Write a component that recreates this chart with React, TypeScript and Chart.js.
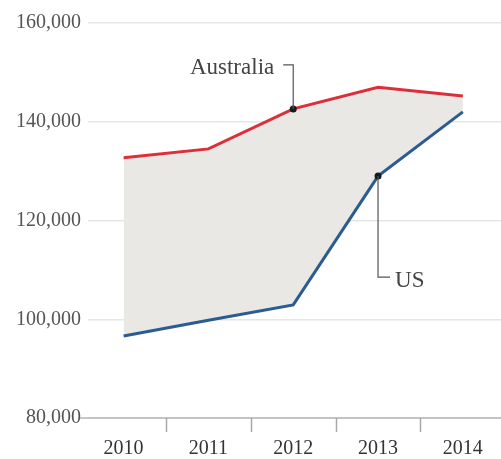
import React, { useEffect, useRef } from "react";
import { Chart, registerables } from "chart.js";

Chart.register(...registerables);

const categories = ["2010", "2011", "2012", "2013", "2014"];
const australia = [132700, 134500, 142600, 147000, 145200];
const us = [96600, 99800, 102900, 129000, 142000];
const yTicks = [80000, 100000, 120000, 140000, 160000];
const labelAustralia = "Australia";
const labelUS = "US";

const FONT = "'Liberation Serif', 'Times New Roman', serif";

const overlayPlugin = {
  id: "overlay",
  afterDatasetsDraw(chart: any) {
    const ctx = chart.ctx;
    const xs = chart.scales.x;
    const ys = chart.scales.y;
    const area = chart.chartArea;
    ctx.save();
    // bottom axis line
    const yb = ys.getPixelForValue(yTicks[0]);
    ctx.strokeStyle = "#b4b4b4";
    ctx.lineWidth = 1.5;
    ctx.beginPath();
    ctx.moveTo(80, yb);
    ctx.lineTo(area.right, yb);
    ctx.stroke();
    // tick marks between categories
    ctx.strokeStyle = "#a8a8a8";
    for (let i = 0; i < categories.length - 1; i++) {
      const x = Math.round(xs.getPixelForValue(i + 0.5)) + 0.5;
      ctx.beginPath();
      ctx.moveTo(x, yb);
      ctx.lineTo(x, yb + 14);
      ctx.stroke();
    }
    // annotations
    ctx.strokeStyle = "#555";
    ctx.lineWidth = 1.2;
    ctx.fillStyle = "#444";
    ctx.font = "23px " + FONT;
    const pa = chart.getDatasetMeta(0).data[2];
    const topY = pa.y - 44;
    ctx.beginPath();
    ctx.moveTo(pa.x - 10, topY);
    ctx.lineTo(pa.x, topY);
    ctx.lineTo(pa.x, pa.y);
    ctx.stroke();
    ctx.textAlign = "right";
    ctx.textBaseline = "middle";
    ctx.fillText(labelAustralia, pa.x - 19, topY + 3);

    const pu = chart.getDatasetMeta(1).data[3];
    const botY = pu.y + 101;
    ctx.beginPath();
    ctx.moveTo(pu.x, pu.y);
    ctx.lineTo(pu.x, botY);
    ctx.lineTo(pu.x + 12, botY);
    ctx.stroke();
    ctx.textAlign = "left";
    ctx.fillText(labelUS, pu.x + 17, botY + 4);
    ctx.restore();
  },
};

export default function App() {
  const ref = useRef<HTMLCanvasElement>(null);
  useEffect(() => {
    if (!ref.current) return;
    const chart = new Chart(ref.current, {
      type: "line",
      data: {
        datasets: [
          {
            label: labelAustralia,
            data: categories.map((c, i) => ({ x: i, y: australia[i] })),
            borderColor: "#dc2f3b",
            borderWidth: 3,
            backgroundColor: "#dc2f3b",
            fill: false,
            tension: 0,
            pointRadius: [0, 0, 3.5, 0, 0],
            pointBackgroundColor: "#1a1a1a",
            pointBorderWidth: 0,
          },
          {
            label: labelUS,
            data: categories.map((c, i) => ({ x: i, y: us[i] })),
            borderColor: "#2a5b93",
            borderWidth: 3,
            backgroundColor: "#e9e8e4",
            fill: "-1",
            tension: 0,
            pointRadius: [0, 0, 0, 3.5, 0],
            pointBackgroundColor: "#1a1a1a",
            pointBorderWidth: 0,
          },
        ],
      },
      options: {
        animation: false,
        responsive: false,
        layout: { padding: { top: 23, left: 0, right: 0, bottom: 0 } },
        plugins: { legend: { display: false }, tooltip: { enabled: false } },
        scales: {
          x: {
            type: "linear",
            min: -0.42,
            max: 4.45,
            afterBuildTicks: (s: any) => {
              s.ticks = categories.map((c, i) => ({ value: i }));
            },
            afterFit: (s: any) => {
              s.height = 41;
            },
            grid: { display: false },
            border: { display: false },
            ticks: {
              callback: (v: any) => categories[Math.round(v)] ?? "",
              font: { family: FONT, size: 20 },
              color: "#333",
              padding: 11,
              maxRotation: 0,
              autoSkip: false,
            },
          },
          y: {
            min: yTicks[0],
            max: yTicks[yTicks.length - 1],
            afterBuildTicks: (s: any) => {
              s.ticks = yTicks.map((v) => ({ value: v }));
            },
            afterFit: (s: any) => {
              s.width = 88;
            },
            grid: { color: "#e6e6e6", lineWidth: 1.5, drawTicks: false },
            border: { display: false },
            ticks: {
              callback: (v: any) => Number(v).toLocaleString("en-US"),
              font: { family: FONT, size: 20 },
              color: "#555",
              padding: 7,
            },
          },
        },
      },
      plugins: [overlayPlugin],
    } as any);
    return () => chart.destroy();
  }, []);
  return (
    <div style={{ position: "absolute", left: 0, top: 0, width: 501, height: 459 }}>
      <canvas ref={ref} width={501} height={459} style={{ display: "block" }} />
    </div>
  );
}
